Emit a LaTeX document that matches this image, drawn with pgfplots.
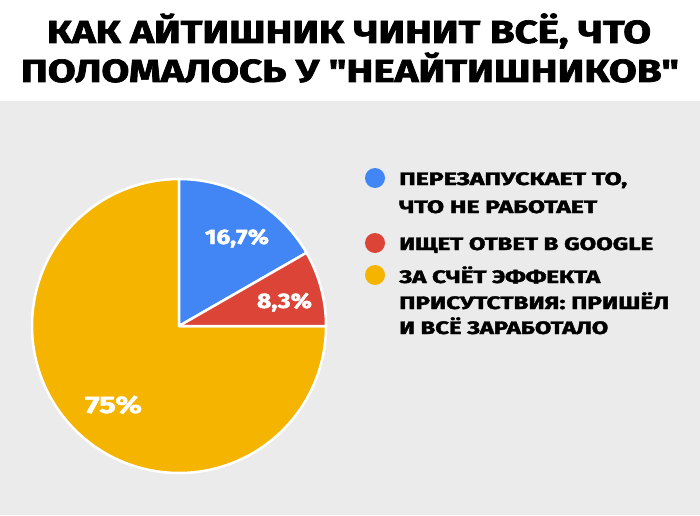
\documentclass[border=0pt]{standalone}
\usepackage{pgfplots}
\pgfplotsset{compat=1.18}
\usepackage{pgfplotstable}
\usepackage{graphicx}
\usepackage{fontspec}
\setmainfont{Fira Sans}
\newfontfamily\heavyfam{Fira Sans}[BoldFeatures={FakeBold=2}]
\newcommand\heavy{\heavyfam\bfseries}
\definecolor{pieblue}{RGB}{66,133,244}
\definecolor{piered}{RGB}{219,68,55}
\definecolor{pieyellow}{RGB}{244,180,0}
\definecolor{bggray}{RGB}{235,235,235}
\newcommand\fitw[2]{\resizebox{#1pt}{\height}{#2}}
% slice shares, percent
\pgfplotstableread{
slice value
blue 16.7
red 8.3
yellow 75
}\piedata
\begin{document}
\begin{tikzpicture}[x=1pt,y=1pt]
\pgfplotstablegetelem{0}{value}\of\piedata \let\vA\pgfplotsretval
\pgfplotstablegetelem{1}{value}\of\piedata \let\vB\pgfplotsretval
\pgfplotstablegetelem{2}{value}\of\piedata \let\vC\pgfplotsretval
\pgfmathsetmacro\aS{90}
\pgfmathsetmacro\aA{90-3.6*\vA}
\pgfmathsetmacro\aB{\aA-3.6*\vB}
\pgfmathsetmacro\aC{\aB-3.6*\vC}
\path[use as bounding box] (0,0) rectangle (700,515);
\fill[white] (0,0) rectangle (700,515);
\fill[bggray] (0,0) rectangle (700,414);
% title
\node[anchor=base, inner sep=0] at (349,472) {\fitw{604}{\heavy\fontsize{32}{32}\selectfont КАК АЙТИШНИК ЧИНИТ ВСЁ, ЧТО}};
\node[anchor=base, inner sep=0] at (350,433) {\fitw{658}{\heavy\fontsize{32}{32}\selectfont ПОЛОМАЛОСЬ У "НЕАЙТИШНИКОВ"}};
\begin{axis}[
  at={(179,189)}, anchor=center,
  hide axis, scale only axis, width=300pt, height=300pt,
  xmin=-150, xmax=150, ymin=-150, ymax=150, clip=false]
\addplot[fill=pieyellow, draw=white, line width=2.5pt, line join=round, domain=\aC:\aB, samples=200] ({147*cos(x)},{147*sin(x)}) -- (axis cs:0,0) -- cycle;
\addplot[fill=pieblue, draw=white, line width=2.5pt, line join=round, domain=\aA:\aS, samples=60] ({147*cos(x)},{147*sin(x)}) -- (axis cs:0,0) -- cycle;
\addplot[fill=piered, draw=white, line width=2.5pt, line join=round, domain=\aB:\aA, samples=40] ({147*cos(x)},{147*sin(x)}) -- (axis cs:0,0) -- cycle;
\node[anchor=base, inner sep=0, text=white] at (axis cs:58,82) {\fitw{64}{\heavy\fontsize{21}{21}\selectfont 16,7\%}};
\node[anchor=base, inner sep=0, text=white] at (axis cs:105.5,18) {\fitw{55}{\heavy\fontsize{21}{21}\selectfont 8,3\%}};
\node[anchor=base, inner sep=0, text=white] at (axis cs:-65.5,-87) {\fitw{57}{\heavy\fontsize{24}{24}\selectfont 75\%}};
\end{axis}
% legend
\fill[pieblue] (375,337) circle (10);
\fill[piered] (375,272) circle (10);
\fill[pieyellow] (375,240) circle (10);
\node[anchor=base west, inner sep=0] at (399,330) {\fitw{228}{\heavy\fontsize{18}{18}\selectfont ПЕРЕЗАПУСКАЕТ ТО,}};
\node[anchor=base west, inner sep=0] at (399,302) {\fitw{198}{\heavy\fontsize{18}{18}\selectfont ЧТО НЕ РАБОТАЕТ}};
\node[anchor=base west, inner sep=0] at (399,265) {\fitw{254}{\heavy\fontsize{18}{18}\selectfont ИЩЕТ ОТВЕТ В GOOGLE}};
\node[anchor=base west, inner sep=0] at (399,232) {\fitw{201}{\heavy\fontsize{18}{18}\selectfont ЗА СЧЁТ ЭФФЕКТА}};
\node[anchor=base west, inner sep=0] at (399,206) {\fitw{270}{\heavy\fontsize{18}{18}\selectfont ПРИСУТСТВИЯ: ПРИШЁЛ}};
\node[anchor=base west, inner sep=0] at (399,181) {\fitw{209}{\heavy\fontsize{18}{18}\selectfont И ВСЁ ЗАРАБОТАЛО}};
\end{tikzpicture}
\end{document}
